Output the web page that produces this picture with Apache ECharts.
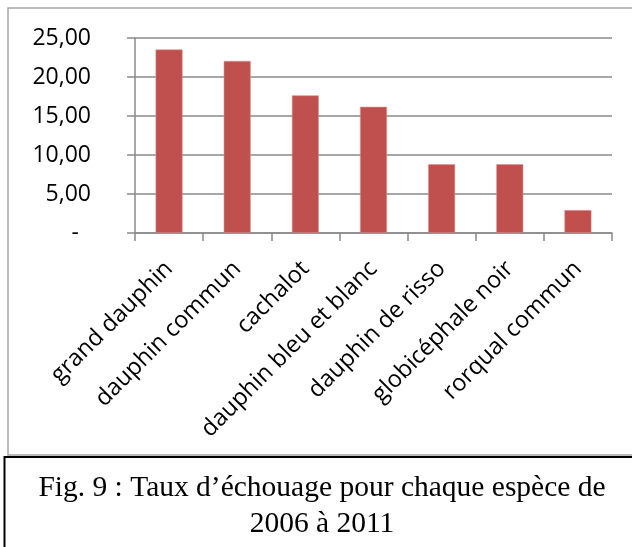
<!DOCTYPE html>
<html>
<head>
<meta charset="utf-8">
<script src="https://cdn.jsdelivr.net/npm/echarts@6/dist/echarts.min.js"></script>
<style>html,body{margin:0;padding:0;background:#fff;}#c{width:632px;height:547px;}</style>
</head>
<body>
<div id="c"></div>
<script>
const categories = ['grand dauphin', 'dauphin commun', 'cachalot', 'dauphin bleu et blanc', 'dauphin de risso', 'globicéphale noir', 'rorqual commun'];
const values = [23.53, 22.06, 17.65, 16.18, 8.82, 8.82, 2.94];
const yMin = 0, yMax = 25, yStep = 5;
const captionLines = ['Fig. 9 : Taux d\u2019échouage pour chaque espèce de', '2006 à 2011'];

const chart = echarts.init(document.getElementById('c'), null, {renderer: 'canvas'});
const gridColor = '#8a8a8a';
const labelFont = 'Open Sans';
chart.setOption({
  animation: false,
  backgroundColor: '#fff',
  grid: {left: 135, right: 20, top: 38, bottom: 314, containLabel: false},
  xAxis: {
    type: 'category',
    data: categories,
    boundaryGap: true,
    axisLine: {show: true, lineStyle: {color: gridColor, width: 1.5}},
    axisTick: {show: true, length: 8, lineStyle: {color: gridColor, width: 1.5}},
    axisLabel: {
      rotate: 45, interval: 0, margin: 32, color: '#000',
      fontFamily: labelFont, fontSize: 23.5,
      padding: [22, 0, 0, 0]
    }
  },
  yAxis: {
    type: 'value', min: yMin, max: yMax, interval: yStep,
    axisLine: {show: true, lineStyle: {color: gridColor, width: 1.5}},
    axisTick: {show: true, length: 8, lineStyle: {color: gridColor, width: 1.5}},
    splitLine: {show: true, lineStyle: {color: gridColor, width: 1.5}},
    axisLabel: {
      margin: 44, color: '#000', fontFamily: labelFont, fontSize: 23,
      formatter: function (v) {
        if (v === 0) return '{d|-}';
        return v.toFixed(2).replace('.', ',');
      },
      rich: {d: {padding: [0, 12, 0, 0], fontFamily: labelFont, fontSize: 23, color: '#000'}}
    }
  },
  series: [{
    type: 'bar',
    data: values,
    barWidth: 27,
    itemStyle: {color: '#C0504D', borderColor: '#d99694', borderWidth: 0.6}
  }],
  graphic: [
    {type: 'rect', shape: {x: 8, y: 8, width: 640, height: 447}, style: {fill: 'none', stroke: '#a6a6a6', lineWidth: 1.5}, z: -1},
    {type: 'rect', shape: {x: 4.5, y: 457, width: 640, height: 120}, style: {fill: '#fff', stroke: '#000', lineWidth: 2}},
    {type: 'text', x: 322, y: 503, style: {text: captionLines[0], font: '29.5px "Liberation Serif"', fill: '#000', textAlign: 'center', textVerticalAlign: 'bottom'}},
    {type: 'text', x: 322, y: 539, style: {text: captionLines[1], font: '29.5px "Liberation Serif"', fill: '#000', textAlign: 'center', textVerticalAlign: 'bottom'}}
  ]
});
</script>
</body>
</html>
